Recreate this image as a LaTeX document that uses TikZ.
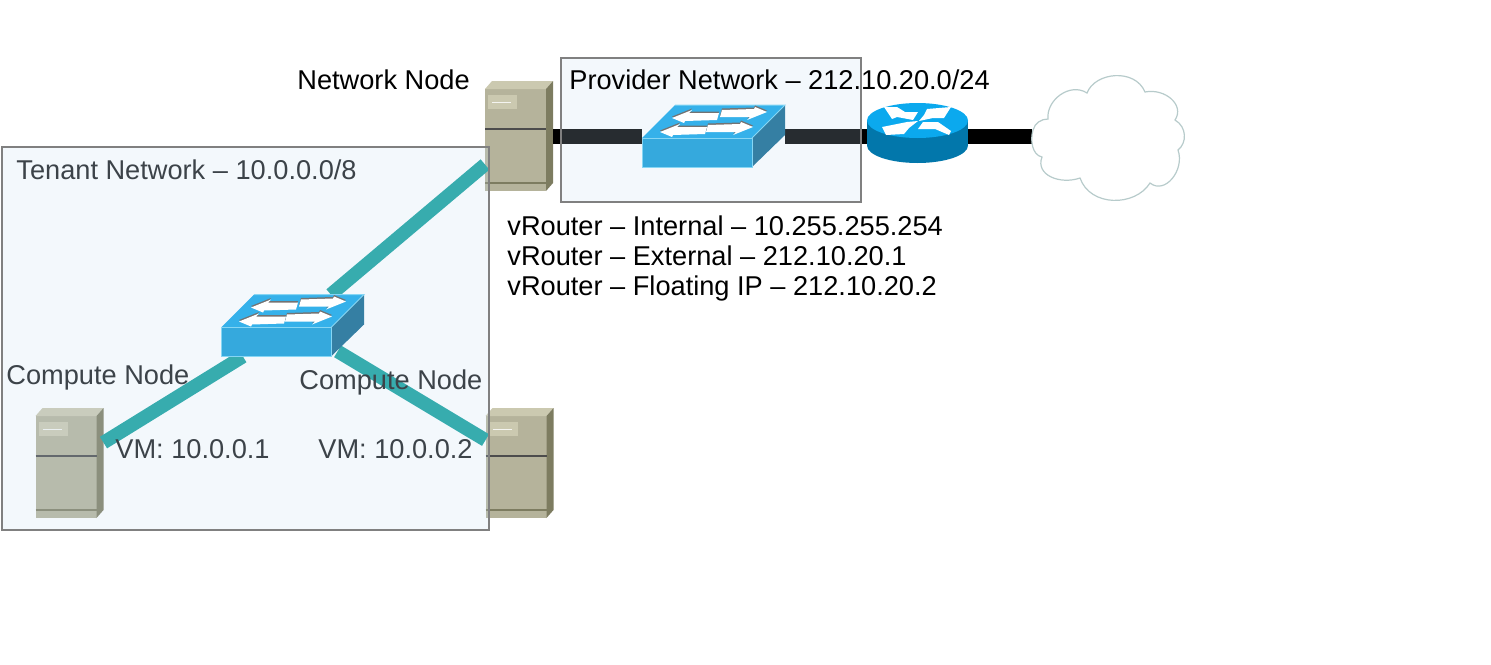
\documentclass[tikz,border=0pt]{standalone}
\usepackage{fontspec}
\setmainfont{Liberation Sans}
\usetikzlibrary{positioning}

\definecolor{tealink}{HTML}{15A19E}
\definecolor{srvfront}{HTML}{B5B39B}
\definecolor{srvtop}{HTML}{CBC9B0}
\definecolor{srvside}{HTML}{7D7C60}
\definecolor{swfront}{HTML}{35A9DD}
\definecolor{swtop}{HTML}{35B1EA}
\definecolor{swside}{HTML}{357FA3}
\definecolor{swrim}{HTML}{86D6F4}
\definecolor{rttop}{HTML}{0BA9EE}
\definecolor{rtbody}{HTML}{0277AB}
\definecolor{netfill}{RGB}{195,220,242}
\definecolor{tenanttext}{HTML}{3C4349}
\definecolor{cloudline}{HTML}{B7CBCB}

\tikzset{
	serverpic/.pic={
		\fill[srvfront] (-34,-47) rectangle (27,55);
		\fill[srvtop] (-34,-47) -- (-27,-55) -- (34,-55) -- (27,-47) -- cycle;
		\fill[srvside] (27,-47) -- (34,-55) -- (34,47) -- (27,55) -- cycle;
		\draw[line width=1.3pt,black!70] (-34,-7) -- (27,-7);
		\draw[line width=.9pt,srvside] (-34,47) -- (27,47);
		\fill[srvtop] (-31,-41) rectangle (-2,-27);
		\draw[line width=.3pt,white!85!srvfront] (-27,-34) -- (-8,-34);
	},
	switchpic/.pic={
		\fill[swtop] (-71.5,2) -- (-38.5,-31) -- (71.5,-31) -- (38.5,2) -- cycle;
		\fill[swside] (38.5,2) -- (71.5,-31) -- (71.5,-1) -- (38.5,31) -- cycle;
		\fill[swfront] (-71.5,2) rectangle (38.5,31);
		\draw[line width=.5pt,swrim] (-71.5,2) -- (38.5,2) -- (38.5,31) -- (-71.5,31) -- cycle;
		\draw[line width=.5pt,swrim] (38.5,2) -- (71.5,-31) -- (-38.5,-31);
		\foreach \ax/\ay/\rot in {53.5/-24/0,39.5/-9/0,-41.5/-18/180,-53.5/-4/180}{
			\fill[black!55,shift={(\ax,\ay-1.5)},rotate=\rot]
				(-45,-2) -- (-13,-3) -- (-12,-5) -- (0,0) -- (-20,8) -- (-17,5) -- (-47,5) -- cycle;
			\fill[white,shift={(\ax,\ay)},rotate=\rot]
				(-45,-2) -- (-13,-3) -- (-12,-5) -- (0,0) -- (-20,8) -- (-17,5) -- (-47,5) -- cycle;
		}
	},
	routerpic/.pic={
		\fill[rtbody] (0,9.5) ellipse [x radius=50.5,y radius=17.5];
		\fill[rtbody] (-50.5,-15.5) rectangle (50.5,9.5);
		\fill[rttop] (0,-15.5) ellipse [x radius=50.5,y radius=17.5];
		\fill[white] (-33.5,-29) -- (-20.5,-29) -- (-12.5,-24) -- (0.5,-24) -- (-4.5,-16) -- (-20.5,-19) -- (-25.5,-17) -- cycle;
		\fill[white] (9.5,-27) -- (33.5,-29) -- (26.5,-18) -- (15.5,-18) -- (1.5,-15) -- (6.5,-21) -- cycle;
		\fill[white] (-35.5,-9) -- (-10.5,-14) -- (0.5,-15) -- (-8.5,-8) -- (-13.5,-2) -- (-31.5,-1) -- cycle;
		\fill[white] (0.5,-7) -- (5.5,-14) -- (20.5,-14) -- (33.5,-5) -- (31.5,-1) -- (17.5,-7) -- cycle;
	}
}

\begin{document}
\begin{tikzpicture}[x=0.5pt,y=-0.5pt,
		devbox/.style={rectangle,inner sep=0pt,outer sep=0pt},
		srvbox/.style={devbox,minimum width=34pt,minimum height=55pt},
		swbox/.style={devbox,minimum width=71.5pt,minimum height=31pt},
		netbox/.style={devbox,draw=black!50,line width=.6pt,fill=netfill,fill opacity=.2},
		lbl/.style={inner sep=0pt,anchor=base west,font=\fontsize{13.6}{16}\selectfont},
		tenantlbl/.style={lbl,text=tenanttext},
		tenantlink/.style={tealink,line width=6.8pt},
		uplink/.style={black,line width=7.5pt}]
	\useasboundingbox (0,0) rectangle (1491,664);

	\node[srvbox]						(networknode)	at (519,136)		{};
	\node[srvbox]						(computea)		at (69.5,463)		{};
	\node[srvbox]						(computeb)		at (519.5,463)		{};
	\node[swbox]						(tenantsw)		at (292.5,325.5)	{};
	\node[swbox]						(providersw)	at (713.5,136)		{};
	\node[devbox,minimum width=50.5pt,minimum height=33pt]	(router)	at (917.5,136)	{};
	\node[devbox,minimum width=76.5pt,minimum height=62.5pt]	(cloud)	at (1108.5,136)	{};

	\pic at (networknode) {serverpic};
	\pic at (computea) {serverpic};
	\pic at (computeb) {serverpic};

	\draw[tenantlink] (networknode.220) -- (tenantsw.39);
	\draw[tenantlink] (computea.31) -- (tenantsw.212);
	\draw[tenantlink,shorten >=-5pt] (computeb.146) -- (tenantsw.330);
	\draw[uplink] (networknode.east) -- (providersw.west);
	\draw[uplink] (providersw.east) -- (router.west);
	\draw[uplink] (router.east) -- (cloud.west);

	\node[netbox,minimum width=243.5pt,minimum height=191.5pt]	(tenantnet)		at (245.5,338.5)	{};
	\node[netbox,minimum width=150pt,minimum height=72pt]		(providernet)	at (711,130)		{};

	\pic at (tenantsw) {switchpic};
	\pic at (providersw) {switchpic};
	\pic at (router) {routerpic};

	\draw[fill=white,draw=cloudline,line width=.6pt] (1033,130)
		.. controls (1035,123) and (1041,119) .. (1048,119)
		.. controls (1046,100) and (1070,82) .. (1087,93)
		.. controls (1095,72) and (1135,68) .. (1145,92)
		.. controls (1165,88) and (1185,105) .. (1175,120)
		.. controls (1187,127) and (1187,143) .. (1178,150)
		.. controls (1185,170) and (1165,195) .. (1150,183)
		.. controls (1135,207) and (1090,207) .. (1080,178)
		.. controls (1060,185) and (1035,175) .. (1042,157)
		.. controls (1032,155) and (1030,140) .. (1033,130) -- cycle;

	\node[lbl]			(networklbl)	at (297,89)		{Network Node};
	\node[lbl]			(providerlbl)	at (569,89)		{Provider Network -- 212.10.20.0/24};
	\node[tenantlbl]	(tenantlbl)		at (16,179)		{Tenant Network -- 10.0.0.0/8};
	\node[lbl]			(vrint)			at (507,235)	{vRouter -- Internal -- 10.255.255.254};
	\node[lbl,below=15pt of vrint.base west,anchor=base west]	(vrext)		{vRouter -- External -- 212.10.20.1};
	\node[lbl,below=15pt of vrext.base west,anchor=base west]	(vrfloat)	{vRouter -- Floating IP -- 212.10.20.2};
	\node[tenantlbl]	(computealbl)	at (6,384)		{Compute Node};
	\node[tenantlbl]	(computeblbl)	at (299,389)	{Compute Node};
	\node[tenantlbl]	(vmalbl)		at (115,458)	{VM: 10.0.0.1};
	\node[tenantlbl]	(vmblbl)		at (318,458)	{VM: 10.0.0.2};
\end{tikzpicture}
\end{document}
